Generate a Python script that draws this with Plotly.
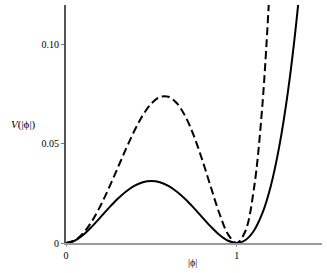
import plotly.graph_objects as go

# |phi| sample positions and potential values
phi_solid = [0.0, 0.05, 0.1, 0.15, 0.2, 0.25, 0.3, 0.35, 0.4, 0.45, 0.5, 0.55, 0.6, 0.65, 0.7,
             0.75, 0.8, 0.85, 0.9, 0.95, 1.0, 1.05, 1.1, 1.15, 1.2, 1.25, 1.3, 1.35, 1.4]
v_solid = [0.0, 0.00113, 0.00405, 0.00813, 0.0128, 0.01758, 0.02205, 0.02588, 0.0288, 0.03063,
           0.03125, 0.03063, 0.0288, 0.02588, 0.02205, 0.01758, 0.0128, 0.00813, 0.00405, 0.00113,
           0.0, 0.00138, 0.00605, 0.01488, 0.0288, 0.04883, 0.07605, 0.11163, 0.1568]

phi_dashed = [0.0, 0.05, 0.1, 0.15, 0.2, 0.25, 0.3, 0.35, 0.4, 0.45, 0.5, 0.55, 0.6, 0.65, 0.7,
              0.75, 0.8, 0.85, 0.9, 0.95, 1.0, 1.05, 1.1, 1.15, 1.2]
v_dashed = [0.0, 0.00124, 0.0049, 0.01075, 0.01843, 0.02747, 0.03726, 0.04716, 0.05645, 0.0644,
            0.07031, 0.0736, 0.07373, 0.07045, 0.06372, 0.05383, 0.04147, 0.02782, 0.01462, 0.00429,
            0.0, 0.00579, 0.02668, 0.06877, 0.1394]

x_tickvals = [0, 1]
x_ticktext = ["0", "1"]
y_tickvals = [0, 0.05, 0.10]
y_ticktext = ["0", "0.05", "0.10"]

serif = "Liberation Serif, Times New Roman, serif"
W, H = 327, 273
ML, MR, MT, MB = 66, 5, 5, 30
PW, PH = W - ML - MR, H - MT - MB

fig = go.Figure()
fig.add_trace(go.Scatter(x=phi_dashed, y=v_dashed, mode="lines",
                         line=dict(color="black", width=2, dash="8px,4px", shape="spline"),
                         showlegend=False, hoverinfo="skip"))
fig.add_trace(go.Scatter(x=phi_solid, y=v_solid, mode="lines",
                         line=dict(color="black", width=2, shape="spline"),
                         showlegend=False, hoverinfo="skip"))

fig.update_layout(
    width=W, height=H,
    margin=dict(l=ML, r=MR, t=MT, b=MB),
    paper_bgcolor="white", plot_bgcolor="white",
    font=dict(family=serif, size=10, color="black"),
    xaxis=dict(range=[0, 1.5], tickvals=x_tickvals, ticktext=x_ticktext,
               showgrid=False, zeroline=False, showline=True, linecolor="#999999", linewidth=2,
               ticks="outside", ticklen=2, tickcolor="#999999",
               tickfont=dict(family=serif, size=10, color="black")),
    yaxis=dict(range=[0, 0.12], tickvals=y_tickvals, ticktext=y_ticktext,
               showgrid=False, zeroline=False, showline=True, linecolor="#555555", linewidth=2,
               ticks="outside", ticklen=3, tickcolor="#777777",
               tickfont=dict(family=serif, size=10, color="black")),
    annotations=[
        dict(text="<i>V</i>(|ϕ|)", x=(23 - ML) / PW, y=0.0595, xref="paper", yref="y",
             showarrow=False, font=dict(family=serif, size=11, color="black"),
             xanchor="center", yanchor="middle"),
        dict(text="|ϕ|", x=(192 - ML) / PW, y=-(262 - (H - MB)) / PH, xref="paper", yref="paper",
             showarrow=False, font=dict(family=serif, size=10, color="black"),
             xanchor="center", yanchor="middle"),
    ],
)

fig.write_html("out.html", config={"displayModeBar": False},
               post_script="document.body.style.margin='0';document.body.style.padding='0';")
